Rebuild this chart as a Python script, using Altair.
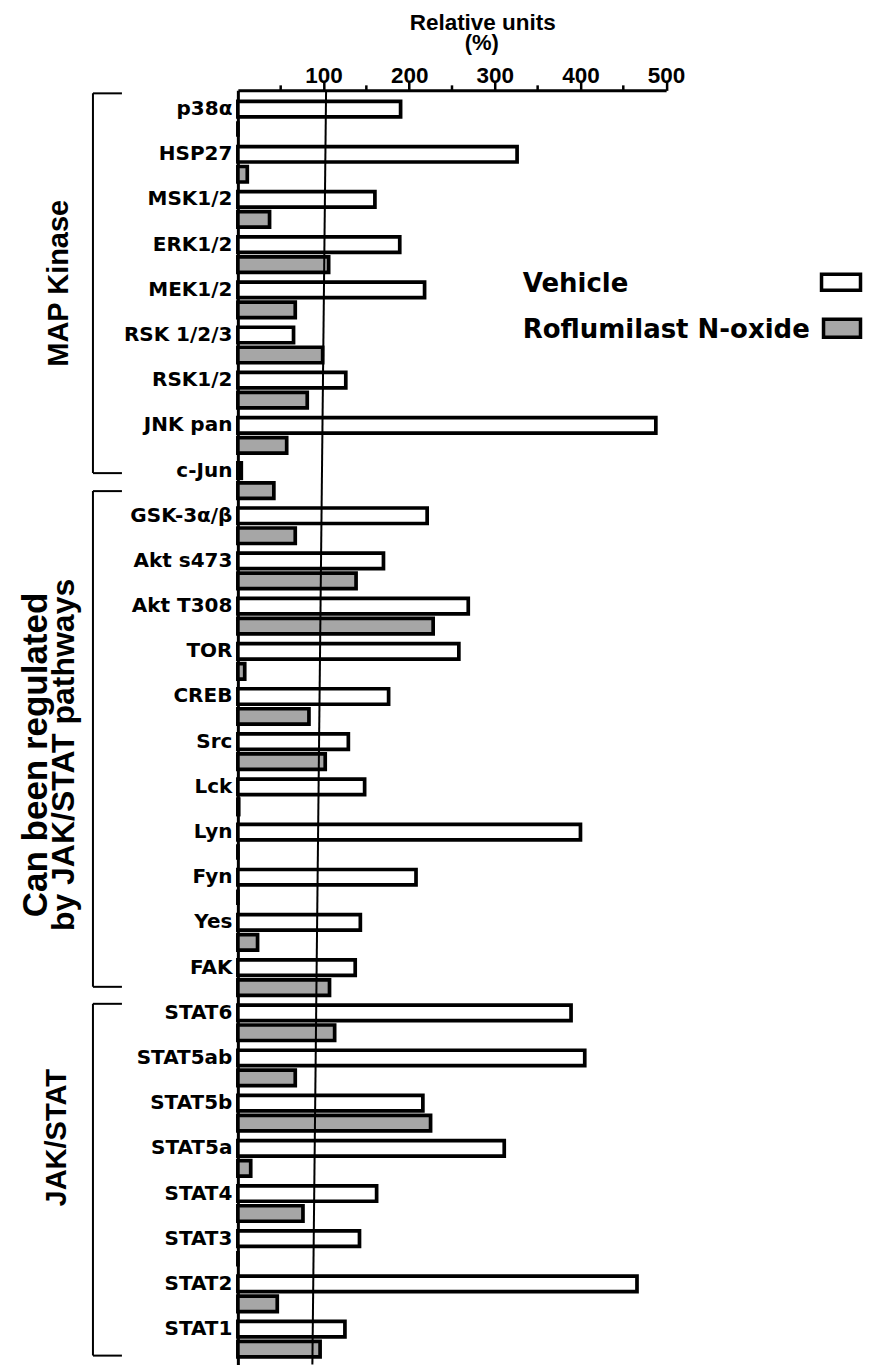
import altair as alt
import pandas as pd

# ---------------- data ----------------
proteins = ["p38α", "HSP27", "MSK1/2", "ERK1/2", "MEK1/2", "RSK 1/2/3", "RSK1/2", "JNK pan", "c-Jun",
            "GSK-3α/β", "Akt s473", "Akt T308", "TOR", "CREB", "Src", "Lck", "Lyn", "Fyn", "Yes", "FAK",
            "STAT6", "STAT5ab", "STAT5b", "STAT5a", "STAT4", "STAT3", "STAT2", "STAT1"]
vehicle = [190, 326, 160, 189, 218, 65, 126, 488, 4,
           221, 170, 269, 258, 176, 129, 148, 400, 208, 143, 137,
           389, 405, 216, 311, 162, 142, 466, 125]
roflumilast = [0, 11, 37, 106, 67, 99, 81, 57, 42,
               67, 138, 228, 8, 83, 102, 1, 0, 0, 23, 107,
               113, 67, 225, 15, 76, 0, 46, 96]
treatments = ["Vehicle", "Roflumilast N-oxide"]
group_labels = ["MAP Kinase", "Can been regulated", "by JAK/STAT pathways", "JAK/STAT"]
major_ticks = [100, 200, 300, 400, 500]
minor_ticks = [50, 150, 250, 350, 450]
ref_line = [103, 87]  # the drawn 100 % line, value at top and at bottom
axis_title = ["Relative units", "(%)"]

W = 428.5
H = 1275
FONT_CAT = "DejaVu Sans"
FONT_AX = "Liberation Sans"
GREY = "#a6a6a6"

df = pd.DataFrame({
    "protein": proteins * 2,
    "treatment": [treatments[0]] * len(proteins) + [treatments[1]] * len(proteins),
    "value": vehicle + roflumilast,
})

xscale = alt.Scale(domain=[0, 500], nice=False, zero=True)

bars = alt.Chart(df).mark_bar(stroke="black", strokeWidth=3.7, strokeJoin="miter").encode(
    x=alt.X("value:Q", scale=xscale, title=None,
            axis=alt.Axis(orient="top", values=major_ticks, title=None, grid=False,
                          domainColor="black", domainWidth=3, tickColor="black", tickWidth=2.5,
                          tickSize=9, labelFont=FONT_AX, labelFontSize=22.5, labelFontWeight="bold",
                          labelColor="black", labelPadding=-1, labelBaseline="alphabetic",
                          labelFlush=False)),
    y=alt.Y("protein:N", sort=proteins, title=None,
            scale=alt.Scale(paddingInner=0.215, paddingOuter=0.208, align=0.585),
            axis=alt.Axis(orient="left", ticks=False, domainColor="black", domainWidth=3,
                          labelFont=FONT_CAT, labelFontSize=20, labelFontWeight="bold",
                          labelColor="black", labelPadding=6, labelOffset=-10, labelLimit=300)),
    yOffset=alt.YOffset("treatment:N", sort=treatments,
                        scale=alt.Scale(paddingInner=0.225, paddingOuter=0)),
    fill=alt.Fill("treatment:N", sort=treatments,
                  scale=alt.Scale(domain=treatments, range=["white", GREY]), legend=None),
)

minor = alt.Chart(pd.DataFrame({"v": minor_ticks})).mark_rule(color="black", strokeWidth=2.5).encode(
    x=alt.X("v:Q", title=None), y=alt.value(-5), y2=alt.value(0))

ref = alt.Chart(pd.DataFrame({"top": [ref_line[0]], "bottom": [ref_line[1]]})).mark_rule(
    color="black", strokeWidth=2).encode(
    x=alt.X("top:Q", title=None), x2="bottom:Q", y=alt.value(0), y2=alt.value(H))


def text_layer(txt, x, y, size, font, angle=0, align="left", baseline="alphabetic"):
    return alt.Chart(pd.DataFrame({"t": [txt]})).mark_text(
        font=font, fontSize=size, fontWeight="bold", color="black", align=align,
        baseline=baseline, angle=angle).encode(text="t:N", x=alt.value(x), y=alt.value(y))


def rule_layer(x, y, x2, y2, w=2):
    return alt.Chart(pd.DataFrame({"d": [0]})).mark_rule(color="black", strokeWidth=w).encode(
        x=alt.value(x), y=alt.value(y), x2=alt.value(x2), y2=alt.value(y2))


def bracket(y0, y1, xv=-145, xh=-116):
    return [rule_layer(xv, y0, xv, y1), rule_layer(xv, y0, xh, y0), rule_layer(xv, y1, xh, y1)]


def swatch(x, y, x2, y2, fill):
    return alt.Chart(pd.DataFrame({"d": [0]})).mark_rect(
        fill=fill, stroke="black", strokeWidth=3.5).encode(
        x=alt.value(x), y=alt.value(y), x2=alt.value(x2), y2=alt.value(y2))


layers = [bars, minor, ref]
layers += [text_layer(axis_title[0], 245, -60, 22.5, FONT_AX, align="center"),
           text_layer(axis_title[1], 244, -40, 22, FONT_AX, align="center")]
layers += [text_layer(treatments[0], 285, 202, 26, FONT_CAT),
           text_layer(treatments[1], 285, 248, 26, FONT_CAT),
           swatch(584, 184, 623, 200, "white"),
           swatch(586, 229, 623, 247, GREY)]
layers += bracket(3, 383) + bracket(401, 897) + bracket(914, 1266)
layers += [text_layer(group_labels[0], -170, 193, 29, FONT_AX, angle=270, align="center"),
           text_layer(group_labels[1], -191, 665, 35, FONT_AX, angle=270, align="center"),
           text_layer(group_labels[2], -164, 665, 32, FONT_AX, angle=270, align="center"),
           text_layer(group_labels[3], -172, 1048, 29, FONT_AX, angle=270, align="center")]

chart = alt.layer(*layers).properties(
    width=W, height=H,
    padding={"left": 230, "top": 82, "right": 198, "bottom": 0},
    autosize=alt.AutoSizeParams(type="none"),
).configure(background="white").configure_view(stroke=None)

chart.save("out.html", embed_options={"renderer": "svg", "actions": False})
